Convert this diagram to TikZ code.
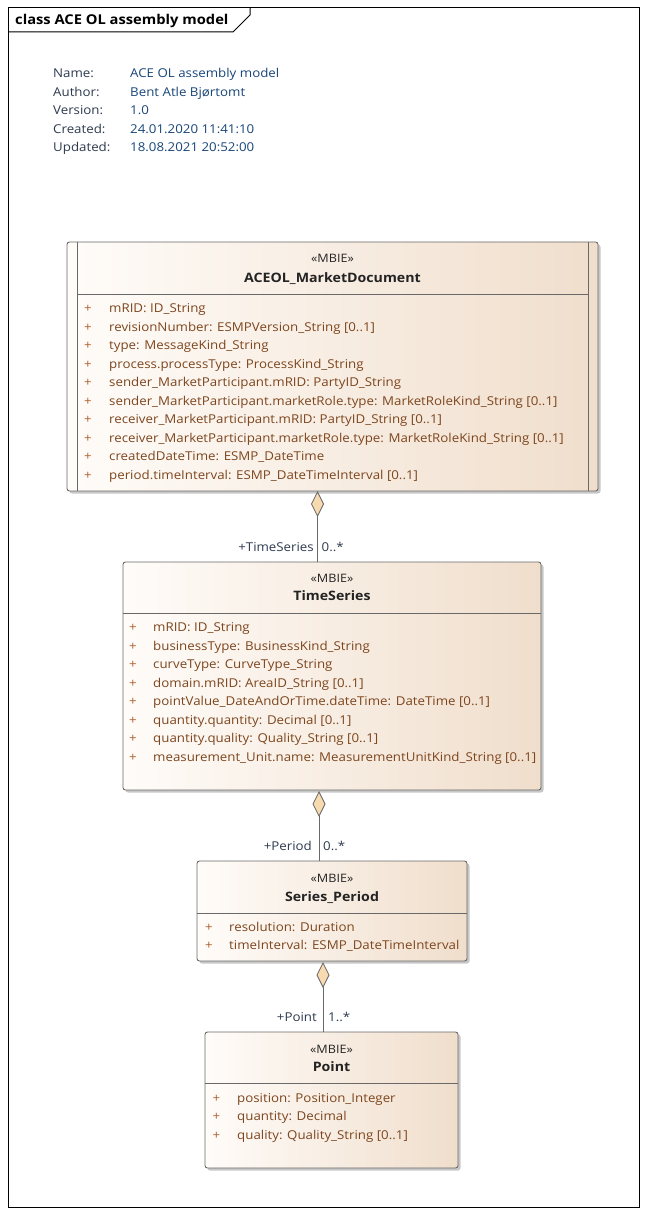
\documentclass[tikz,border=0pt]{standalone}
\usepackage{fontspec}
\setmainfont{Open Sans}
\newfontfamily\uifont[FakeStretch=1.09]{Open Sans}
\usetikzlibrary{arrows.meta,shadows}
\definecolor{attrc}{RGB}{125,70,30}
\definecolor{plusc}{RGB}{175,95,45}
\definecolor{metac}{RGB}{45,58,78}
\definecolor{metav}{RGB}{25,70,120}
\definecolor{boxl}{RGB}{255,252,249}
\definecolor{boxr}{RGB}{240,222,204}
\definecolor{edgec}{RGB}{105,105,105}
\definecolor{dfill}{RGB}{248,218,176}
\definecolor{namec}{RGB}{35,35,35}
\tikzset{
  classbox/.style={draw=edgec, line width=0.9pt, rounded corners=2.5pt, left color=boxl, right color=boxr, shading angle=90,
    drop shadow={shadow xshift=2.5pt, shadow yshift=-2.5pt, fill=black!22, opacity=1}, inner sep=0pt},
  sep/.style={draw=edgec, line width=0.9pt},
  txt/.style={inner sep=0pt, font=\uifont\fontsize{12.2}{14}\selectfont},
  attr/.style={txt, anchor=base west, text=attrc},
  plus/.style={txt, anchor=base, text=plusc},
  stereo/.style={txt, anchor=base, text=namec, font=\uifont\fontsize{11.6}{14}\selectfont},
  cname/.style={txt, anchor=base, text=namec, font=\uifont\fontsize{13}{14}\selectfont\bfseries},
  role/.style={txt, text=metac},
  meta/.style={txt, anchor=base west, text=metac},
  metaval/.style={txt, anchor=base west, text=metav},
  agg/.style={draw=edgec, line width=0.9pt, {Diamond[length=26pt, width=13pt, fill=dfill, line width=0.8pt]}-},
}
\begin{document}
\begin{tikzpicture}[x=1pt,y=-1pt]
\useasboundingbox (0,0) rectangle (647,1214);
% frame
\draw[black, line width=1pt] (8,8) rectangle (639,1207);
\draw[black, line width=1pt] (8,32) -- (233,32) -- (250,15) -- (250,8);
\node[txt, anchor=base west, font=\uifont\fontsize{13.5}{14}\selectfont\bfseries] (title) at (15,24.5) {class ACE OL assembly model};
% metadata
\node[meta] (m1) at (53,78) {Name:};
\node[meta] (m2) at (53,96.5) {Author:};
\node[meta] (m3) at (53,115) {Version:};
\node[meta] (m4) at (53,133.5) {Created:};
\node[meta] (m5) at (53,152) {Updated:};
\node[metaval] (v1) at (130,78) {ACE OL assembly model};
\node[metaval] (v2) at (130,96.5) {Bent Atle Bjørtomt};
\node[metaval] (v3) at (130,115) {1.0};
\node[metaval] (v4) at (130,133.5) {24.01.2020 11:41:10};
\node[metaval] (v5) at (130,152) {18.08.2021 20:52:00};

% ACEOL_MarketDocument
\node[classbox, minimum width=531pt, minimum height=249pt] (doc) at (332.5,366.5) {};
\draw[sep] (77,242) -- (77,491);
\draw[sep] (588,242) -- (588,491);
\draw[sep] (77,294) -- (588,294);
\node[stereo] (docst) at (332.5,262.5) {«MBIE»};
\node[cname] (docnm) at (332.5,282.5) {ACEOL\_MarketDocument};
\foreach \i/\t in {0/{mRID: ID\_String},
  1/{revisionNumber: ESMPVersion\_String [0..1]},
  2/{type: MessageKind\_String},
  3/{process.processType: ProcessKind\_String},
  4/{sender\_MarketParticipant.mRID: PartyID\_String},
  5/{sender\_MarketParticipant.marketRole.type: MarketRoleKind\_String [0..1]},
  6/{receiver\_MarketParticipant.mRID: PartyID\_String [0..1]},
  7/{receiver\_MarketParticipant.marketRole.type: MarketRoleKind\_String [0..1]},
  8/{createdDateTime: ESMP\_DateTime},
  9/{period.timeInterval: ESMP\_DateTimeInterval [0..1]}}{
  \node[plus] (docp\i) at (88,312.5+18.5*\i) {+};
  \node[attr] (doca\i) at (109,312.5+18.5*\i) {\t};
}

% TimeSeries
\node[classbox, minimum width=418pt, minimum height=228pt] (ts) at (332,676) {};
\draw[sep] (123,613) -- (541,613);
\node[stereo] (tsst) at (332,582.5) {«MBIE»};
\node[cname] (tsnm) at (332,600.5) {TimeSeries};
\foreach \i/\t in {0/{mRID: ID\_String},
  1/{businessType: BusinessKind\_String},
  2/{curveType: CurveType\_String},
  3/{domain.mRID: AreaID\_String [0..1]},
  4/{pointValue\_DateAndOrTime.dateTime: DateTime [0..1]},
  5/{quantity.quantity: Decimal [0..1]},
  6/{quantity.quality: Quality\_String [0..1]},
  7/{measurement\_Unit.name: MeasurementUnitKind\_String [0..1]}}{
  \node[plus] (tsp\i) at (133,631.5+18.5*\i) {+};
  \node[attr] (tsa\i) at (153,631.5+18.5*\i) {\t};
}

% Series_Period
\node[classbox, minimum width=270pt, minimum height=100pt] (sp) at (332,911) {};
\draw[sep] (197,913) -- (467,913);
\node[stereo] (spst) at (332,882.5) {«MBIE»};
\node[cname] (spnm) at (332,901.5) {Series\_Period};
\node[plus] (spp0) at (209,931) {+};
\node[attr] (spa0) at (229,931) {resolution: Duration};
\node[plus] (spp1) at (209,949.5) {+};
\node[attr] (spa1) at (229,949.5) {timeInterval: ESMP\_DateTimeInterval};

% Point
\node[classbox, minimum width=253pt, minimum height=136pt] (pt) at (331.5,1100) {};
\draw[sep] (205,1083) -- (458,1083);
\node[stereo] (ptst) at (331.5,1053.5) {«MBIE»};
\node[cname] (ptnm) at (331.5,1071.5) {Point};
\node[plus] (ptp0) at (216.5,1102) {+};
\node[attr] (pta0) at (237,1102) {position: Position\_Integer};
\node[plus] (ptp1) at (216.5,1120.5) {+};
\node[attr] (pta1) at (237,1120.5) {quantity: Decimal};
\node[plus] (ptp2) at (216.5,1139) {+};
\node[attr] (pta2) at (237,1139) {quality: Quality\_String [0..1]};

% connectors
\coordinate (c1) at (317.5,491);
\coordinate (c2) at (319,791);
\coordinate (c3) at (323,962);
\draw[agg] (c1) -- (ts.north -| c1);
\draw[agg] (c2) -- (sp.north -| c2);
\draw[agg] (c3) -- (pt.north -| c3);
\node[role, anchor=base east] (r1) at (314,551) {+TimeSeries};
\node[role, anchor=base west] (k1) at (321.5,551) {0..*};
\node[role, anchor=base east] (r2) at (312,850) {+Period};
\node[role, anchor=base west] (k2) at (323,850) {0..*};
\node[role, anchor=base east] (r3) at (317,1021) {+Point};
\node[role, anchor=base west] (k3) at (328,1021) {1..*};
\end{tikzpicture}
\end{document}
